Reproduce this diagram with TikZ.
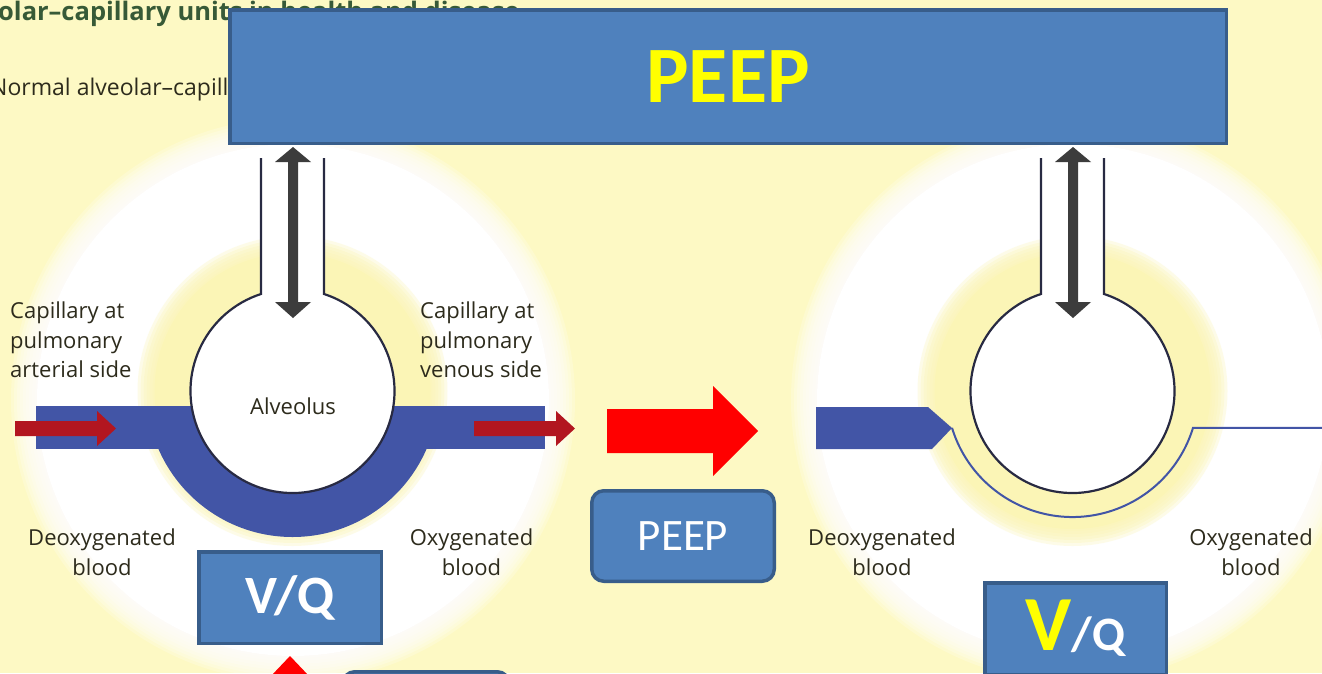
\documentclass[tikz,border=0pt]{standalone}
\usepackage{fontspec}
\usetikzlibrary{calc}
\newfontfamily\labelfont{Open Sans}
\newfontfamily\boxfont{Carlito}
\definecolor{paper}{RGB}{253,249,196}
\definecolor{ringyellow}{RGB}{251,245,182}
\definecolor{capblue}{RGB}{66,85,166}
\definecolor{boxfill}{RGB}{79,129,189}
\definecolor{boxline}{RGB}{56,93,138}
\definecolor{darkred}{RGB}{178,22,32}
\definecolor{wallline}{RGB}{40,42,66}
\definecolor{arrowgray}{RGB}{60,60,60}
\definecolor{labeltext}{RGB}{45,43,28}
\definecolor{titlegreen}{RGB}{55,90,55}
\definecolor{vivid}{RGB}{255,0,0}
\definecolor{signal}{RGB}{255,255,0}

\begin{document}
\begin{tikzpicture}[x=1pt,y=-1pt,
  panel/.style={draw=boxline, fill=boxfill, line width=3.5pt, inner sep=0pt},
  lbl/.style={text=labeltext, font=\labelfont\fontsize{22}{29.5}\selectfont, inner sep=0pt},
  wall/.style={draw=wallline, line width=2.2pt},
  halo/.style={white, opacity=0.22},
  ringfade/.style={ringyellow, opacity=0.3}]
\useasboundingbox (0,0) rectangle (1322,673);
\clip (0,0) rectangle (1322,673);
\fill[paper] (0,0) rectangle (1322,673);

% heading lines, partly hidden under the banner
\node[anchor=base west, inner sep=0pt, text=titlegreen,
      font=\labelfont\bfseries\fontsize{25.5}{30}\selectfont] (heading) at (-2,20)
      {olar–capillary units in health and disease};
\node[anchor=base west, inner sep=0pt, text=labeltext,
      font=\labelfont\fontsize{23}{27}\selectfont] (subheading) at (-10,95)
      {Normal alveolar–capillary};

% ---------- soft backgrounds of both units ----------
\foreach \cx in {292.5,1072.5}{
  \begin{scope}[shift={(\cx,391)}]
    \fill[white] (0.5,9) circle (256);
    \foreach \r in {258,261,...,282} \fill[halo] (0.5,9) circle (\r);
    \fill[ringyellow] (0,0) circle (138);
    \foreach \r in {140,143,...,155} \fill[ringfade] (0,0) circle (\r);
  \end{scope}
}

% ---------- normal unit ----------
\begin{scope}[shift={(292.5,391)}]
  \fill[capblue] (-256.5,15) rectangle (252.5,58);
  \begin{scope}
    \clip (-200,15) rectangle (200,200);
    \fill[capblue] (0,0) circle (146);
  \end{scope}
  \fill[white] (0,0) circle (102);
  \fill[white] (-31.5,-233) rectangle (31.5,-90);
  \draw[wall] (-31.5,-233) -- (252:102) arc[start angle=252, end angle=-72, radius=102] -- (31.5,-233);
  \fill[arrowgray] (0.5,-244) -- (18.5,-229) -- (5.5,-229) -- (5.5,-89) -- (18.5,-89)
     -- (0.5,-73) -- (-17.5,-89) -- (-4.5,-89) -- (-4.5,-229) -- (-17.5,-229) -- cycle;
  \node[lbl] (alveolus) at (0.5,15) {Alveolus};
\end{scope}

% flow arrows in the normal capillary
\fill[darkred] (15,421) -- (97,421) -- (97,411) -- (116,428.5) -- (97,446) -- (97,436) -- (15,436) -- cycle;
\fill[darkred] (474,421) -- (556,421) -- (556,411) -- (575,428.5) -- (556,446) -- (556,436) -- (474,436) -- cycle;

\node[lbl, align=left, anchor=north west] (artside) at (10,302) {Capillary at\\pulmonary\\arterial side};
\node[lbl, align=left, anchor=north west] (venside) at (420,302) {Capillary at\\pulmonary\\venous side};
\node[lbl, align=center, anchor=north] (deoxleft) at (102,529) {Deoxygenated\\blood};
\node[lbl, align=center, anchor=north] (oxleft) at (471.5,529) {Oxygenated\\blood};

% ---------- unit under PEEP ----------
\begin{scope}[shift={(1072.5,391)}]
  \fill[capblue] (-256.5,16) -- (-144.5,16) -- (-120.5,37) -- (-140.5,58) -- (-256.5,58) -- cycle;
  \draw[capblue, line width=2pt] (163:126) arc[start angle=163, end angle=17, radius=126] -- (260,36.84);
  \fill[white] (0,0) circle (102);
  \fill[white] (-31.5,-233) rectangle (31.5,-90);
  \draw[wall] (-31.5,-233) -- (252:102) arc[start angle=252, end angle=-72, radius=102] -- (31.5,-233);
  \fill[arrowgray] (0.5,-244) -- (18.5,-229) -- (5.5,-229) -- (5.5,-89) -- (18.5,-89)
     -- (0.5,-73) -- (-17.5,-89) -- (-4.5,-89) -- (-4.5,-229) -- (-17.5,-229) -- cycle;
\end{scope}
\node[lbl, align=center, anchor=north] (deoxright) at (882,529) {Deoxygenated\\blood};
\node[lbl, align=center, anchor=north] (oxright) at (1251,529) {Oxygenated\\blood};

% transition arrow
\fill[vivid] (607,409) -- (713,409) -- (713,386) -- (758,431) -- (713,476) -- (713,453) -- (607,453) -- cycle;

% ---------- labelled boxes ----------
\node[panel, minimum width=996.5pt, minimum height=133.5pt, text=signal,
      font=\boxfont\bfseries\fontsize{80}{90}\selectfont] (peepbanner) at (728,76.5) {PEEP};
\node[panel, rounded corners=12pt, minimum width=182.5pt, minimum height=90.5pt, text=white,
      font=\boxfont\fontsize{45}{50}\selectfont] (peepsmall) at (683,536) {PEEP};
\node[panel, minimum width=182.5pt, minimum height=91.5pt, text=white,
      font=\boxfont\bfseries\fontsize{54}{60}\selectfont] (vqleft) at (290,597.5) {V/Q};
\node[panel, minimum width=181.5pt, minimum height=91.5pt, text=white,
      font=\boxfont\bfseries\fontsize{48}{56}\selectfont] (vqright) at (1075.5,628.5)
      {\textcolor{signal}{\fontsize{78}{80}\selectfont V}/Q};
\node[panel, rounded corners=12pt, minimum width=166.5pt, minimum height=91.5pt] (lowerbox) at (426,717.5) {};

% arrow rising towards the V/Q box
\coordinate (risetip) at ($(vqleft.south)+(0,11)$);
\fill[vivid] (risetip) -- ++(19,20) -- ++(-38,0) -- cycle;
\end{tikzpicture}
\end{document}
